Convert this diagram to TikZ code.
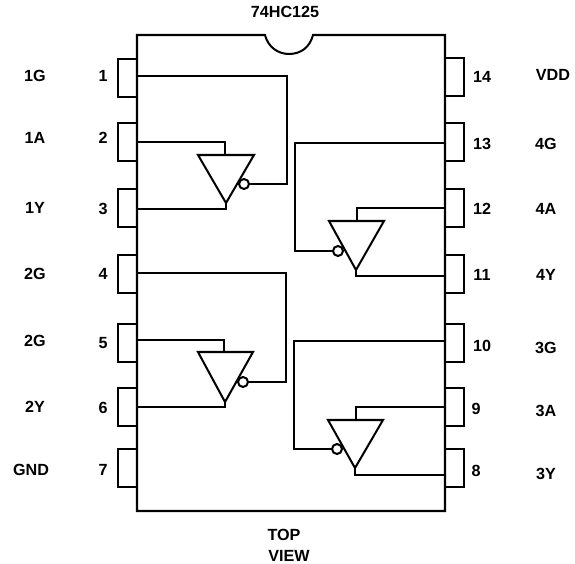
\documentclass[tikz,border=0pt]{standalone}
\usepackage{fontspec}
\setmainfont{Liberation Sans}
\usepackage{tikz}
\tikzset{
    chip/.style={line width=1.15pt, line join=miter},
    pinbox/.style={draw, line width=1.15pt, minimum width=0.38cm, minimum height=0.76cm, inner sep=0pt},
    bubble/.style={draw, circle, line width=1.15pt, fill=white, minimum size=0.2cm, inner sep=0pt},
    lab/.style={font=\bfseries\fontsize{9.2}{10}\selectfont, inner sep=0pt}
}

\begin{document}
\begin{tikzpicture}[x=0.02cm,y=-0.02cm]
    \useasboundingbox (0,0) rectangle (575,564);

    % titolo
    \node[lab] (title) at (285,12) {74HC125};
    \node[lab] (top) at (284,535) {TOP};
    \node[lab] (view) at (289,556) {VIEW};

    % piedini
    \foreach \n/\y in {1/78, 2/142, 3/208, 4/274, 5/343, 6/407, 7/468}{
        \node[pinbox] (p\n) at (127.5,\y) {};
    }
    \foreach \n/\y in {14/77, 13/142, 12/208, 11/274, 10/343, 9/407, 8/468}{
        \node[pinbox] (p\n) at (454.5,\y) {};
    }

    % contenitore
    \draw[chip,fill=white] (137,35) -- (265,35) .. controls (268,47) and (278,54) .. (289,54) .. controls (301,54) and (310,47) .. (313,35) -- (445,35) -- (445,511) -- (137,511) -- cycle;

    % numeri a sinistra
    \foreach \n/\y in {1/76, 2/138, 3/209, 4/274, 5/343, 6/408, 7/470}{
        \node[lab] (n\n) at (103,\y) {\n};
    }
    % numeri a destra
    \foreach \n/\x/\y in {14/482/77, 13/482/144, 12/482/209, 11/482/275, 10/482/346, 9/476/409, 8/476/471}{
        \node[lab] (n\n) at (\x,\y) {\n};
    }

    % segnali
    \foreach \s/\t/\x/\y in {a/1G/35/76, b/1A/35/138, c/1Y/35/208, d/2G/35/274, e/2G/35/341, f/2Y/35/407, g/GND/31/470, h/VDD/553/75, i/4G/546/144, j/4A/546/209, k/4Y/546/275, l/3G/546/348, m/3A/546/411, o/3Y/546/474}{
        \node[lab] (s\s) at (\x,\y) {\t};
    }

    % attacchi sul contenitore
    \foreach \n/\x/\y in {1/137/76, 2/137/142, 3/137/209, 4/137/273, 5/137/340, 6/137/407, 13/445/143, 12/445/208, 11/445/276, 10/445/341, 9/445/407, 8/445/475}{
        \coordinate (w\n) at (\x,\y);
    }

    % porta 1
    \coordinate (g1) at (226,203);
    \coordinate (i1) at (225,155);
    \draw[chip] (198,155) -- (254,155) -- (g1) -- cycle;
    \node[bubble] (b1) at (244,184) {};
    \coordinate (k1) at (287,184);
    \draw[chip] (w1) -| (k1) -- (b1);
    \draw[chip] (w2) -| (i1);
    \draw[chip] (w3) -| (g1);

    % porta 2
    \coordinate (g2) at (356,270);
    \coordinate (i2) at (357,221);
    \draw[chip] (329,221) -- (384,221) -- (g2) -- cycle;
    \node[bubble] (b2) at (338,251) {};
    \coordinate (k2) at (295,251);
    \draw[chip] (w13) -| (k2) -- (b2);
    \draw[chip] (w12) -| (i2);
    \draw[chip] (w11) -| (g2);

    % porta 3
    \coordinate (g3) at (225,402);
    \coordinate (i3) at (224,352);
    \draw[chip] (198,352) -- (253,352) -- (g3) -- cycle;
    \node[bubble] (b3) at (243,382) {};
    \coordinate (k3) at (286,382);
    \draw[chip] (w4) -| (k3) -- (b3);
    \draw[chip] (w5) -| (i3);
    \draw[chip] (w6) -| (g3);

    % porta 4
    \coordinate (g4) at (355,468);
    \coordinate (i4) at (356,420);
    \draw[chip] (328,420) -- (383,420) -- (g4) -- cycle;
    \node[bubble] (b4) at (337,449) {};
    \coordinate (k4) at (294,449);
    \draw[chip] (w10) -| (k4) -- (b4);
    \draw[chip] (w9) -| (i4);
    \draw[chip] (w8) -| (g4);
\end{tikzpicture}
\end{document}
